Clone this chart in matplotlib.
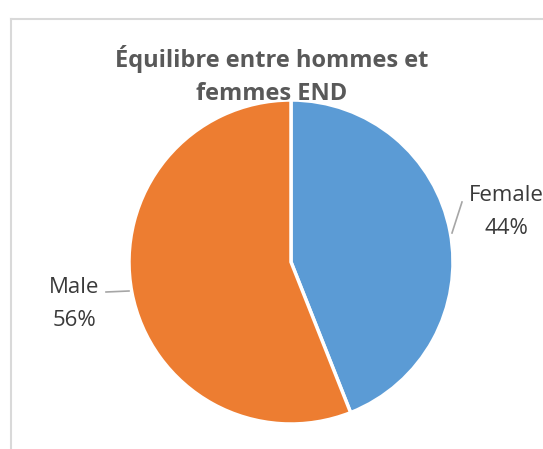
import matplotlib.pyplot as plt
from matplotlib.lines import Line2D

# data
labels = ["Female", "Male"]
shares = [44, 56]
colors = ["#5B9BD5", "#ED7D31"]
title = "Équilibre entre hommes et\nfemmes END"

W, H = 543, 449
fig = plt.figure(figsize=(W / 100, H / 100), dpi=100)
fig.patch.set_facecolor("white")


def fx(px):
    return px / W


def fy(py):
    return 1 - py / H


# chart frame (only top/left visible in the crop)
fig.add_artist(Line2D([fx(11), fx(11)], [fy(19), fy(460)], color="#D9D9D9", lw=1.5))
fig.add_artist(Line2D([fx(11), fx(560)], [fy(19), fy(19)], color="#D9D9D9", lw=1.5))

# pie
cx, cy, r = 291, 262, 162
ax = fig.add_axes([fx(cx - r), fy(cy + r), 2 * r / W, 2 * r / H])
ax.pie(shares, colors=colors, startangle=90, counterclock=False,
       wedgeprops=dict(edgecolor="white", linewidth=2.5))
ax.set_xlim(-1, 1)
ax.set_ylim(-1, 1)
ax.set_aspect("auto")
ax.axis("off")

fig.text(fx(272), fy(67), title.split("\n")[0], ha="center", va="baseline",
         fontsize=17, fontweight="bold", color="#595959", family="Open Sans")
fig.text(fx(272), fy(100), title.split("\n")[1], ha="center", va="baseline",
         fontsize=17, fontweight="bold", color="#595959", family="Open Sans")

# data labels with leader lines
lab_pos = {"Female": (506, 201, 234), "Male": (74, 293, 326)}
leaders = {"Female": ([452, 462], [233, 202]), "Male": ([106, 129], [292, 291])}
for name, val in zip(labels, shares):
    x, y1, y2 = lab_pos[name]
    fig.text(fx(x), fy(y1), name, ha="center", va="baseline",
             fontsize=16, color="#3A3A3A", family="Open Sans")
    fig.text(fx(x), fy(y2), f"{val}%", ha="center", va="baseline",
             fontsize=16, color="#3A3A3A", family="Open Sans")
    lx, ly = leaders[name]
    fig.add_artist(Line2D([fx(v) for v in lx], [fy(v) for v in ly],
                          color="#A6A6A6", lw=1.2))

fig.savefig("out.png", dpi=100)
